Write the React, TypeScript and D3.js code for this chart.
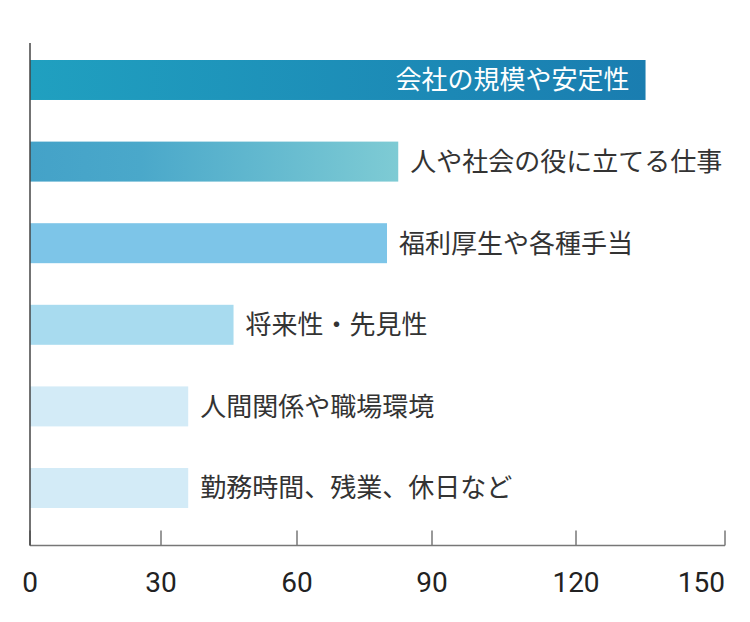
import * as d3 from 'd3';
import {useEffect, useRef} from "react";

const categories = [
    "会社の規模や安定性",
    "人や社会の役に立てる仕事",
    "福利厚生や各種手当",
    "将来性・先見性",
    "人間関係や職場環境",
    "勤務時間、残業、休日など",
];
const values = [134, 82.5, 80, 46, 36, 36];
const tickValues = [0, 30, 60, 90, 120, 150];
// the axis in the original is not evenly spaced, so keep its tick positions
const tickPositions = [30, 161, 297, 432, 576, 725];
const barFills = ["url(#g0)", "url(#g1)", "#7dc5e8", "#a8dbef", "#d3ebf7", "#d3ebf7"];

export default function App() {
    const chartRef = useRef(null);

    useEffect(() => {
        const width = 750;
        const height = 622;
        const axisY = 545.5;

        const x = d3.scaleLinear()
            .domain(tickValues)
            .range(tickPositions);

        const y = d3.scaleBand()
            .domain(categories)
            .range([39.6, 528.4])
            .paddingInner(0.51)
            .paddingOuter(0.25);

        d3.select(chartRef.current).selectAll("*").remove();
        const svg = d3.select(chartRef.current)
            .append("svg")
            .attr("width", width)
            .attr("height", height)
            .style("position", "absolute")
            .style("left", 0)
            .style("top", 0)
            .style("background", "#fff");

        const defs = svg.append("defs");
        const g0 = defs.append("linearGradient").attr("id", "g0");
        g0.append("stop").attr("offset", "0%").attr("stop-color", "#20a0c0");
        g0.append("stop").attr("offset", "100%").attr("stop-color", "#1a7db0");
        const g1 = defs.append("linearGradient").attr("id", "g1");
        g1.append("stop").attr("offset", "0%").attr("stop-color", "#44a2c8");
        g1.append("stop").attr("offset", "30%").attr("stop-color", "#4aa8ca");
        g1.append("stop").attr("offset", "100%").attr("stop-color", "#7ecbd4");

        // bars
        svg.append("g")
            .selectAll("rect")
            .data(values)
            .join("rect")
            .attr("x", x(0))
            .attr("y", (d, i) => y(categories[i]))
            .attr("width", d => x(d) - x(0))
            .attr("height", y.bandwidth())
            .attr("fill", (d, i) => barFills[i]);

        // labels
        svg.append("g")
            .selectAll("text")
            .data(values)
            .join("text")
            .attr("x", (d, i) => i === 0 ? x(d) - 16 : x(d) + 12)
            .attr("y", (d, i) => y(categories[i]) + y.bandwidth() / 2)
            .attr("dy", "0.36em")
            .attr("text-anchor", (d, i) => i === 0 ? "end" : "start")
            .attr("fill", (d, i) => i === 0 ? "#fff" : "#333")
            .style("font-family", "'Noto Sans CJK JP', 'Noto Sans', sans-serif")
            .style("font-size", "26px")
            .text((d, i) => categories[i]);

        // x axis
        const xAxis = svg.append("g");
        xAxis.append("line")
            .attr("x1", x(0)).attr("x2", x(150))
            .attr("y1", axisY).attr("y2", axisY)
            .attr("stroke", "#777").attr("stroke-width", 1.5);
        xAxis.selectAll(".tick")
            .data(tickValues)
            .join("line")
            .attr("x1", d => x(d)).attr("x2", d => x(d))
            .attr("y1", axisY - 15).attr("y2", axisY)
            .attr("stroke", "#777").attr("stroke-width", 1.5);
        xAxis.selectAll(".lbl")
            .data(tickValues)
            .join("text")
            .attr("x", d => x(d))
            .attr("y", 592)
            .attr("text-anchor", (d, i) => i === tickValues.length - 1 ? "end" : "middle")
            .attr("fill", "#222")
            .style("font-family", "'Liberation Sans Narrow', Roboto, sans-serif")
            .style("font-size", "28px")
            .text(d => d);

        // y axis
        svg.append("line")
            .attr("x1", x(0)).attr("x2", x(0))
            .attr("y1", 43).attr("y2", axisY)
            .attr("stroke", "#444").attr("stroke-width", 1.5);
    }, []);

    return (
        <div ref={chartRef}></div>
    );
}
